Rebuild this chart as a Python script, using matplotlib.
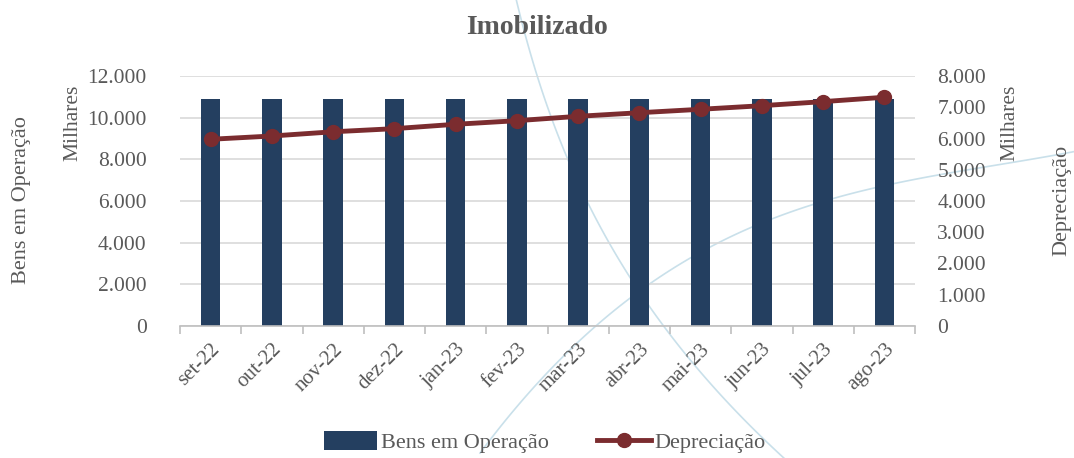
import matplotlib.pyplot as plt
import numpy as np

plt.rcParams['font.family'] = ['Liberation Serif', 'DejaVu Serif']

# --- dados (em milhares) ---
MESES = ['set-22', 'out-22', 'nov-22', 'dez-22', 'jan-23', 'fev-23',
         'mar-23', 'abr-23', 'mai-23', 'jun-23', 'jul-23', 'ago-23']
BENS_OPERACAO = [10900, 10900, 10900, 10900, 10900, 10900,
                 10900, 10900, 10900, 10900, 10900, 10900]
DEPRECIACAO = [5975, 6080, 6215, 6315, 6455, 6570,
               6710, 6825, 6935, 7050, 7180, 7320]

COR_BARRA = '#243F60'
COR_LINHA = '#7B2C2F'
COR_TEXTO = '#595959'
COR_GRADE = '#D9D9D9'
FS = 15.5

fig = plt.figure(figsize=(10.74, 4.58), dpi=100)

# --- arcos decorativos do fundo (em pixels da figura), suavizados ---
arco_a = [(517, 0), (535, 73), (552, 120), (568, 160), (587, 200), (600, 225),
          (660, 320), (723, 400), (785, 458)]
arco_b = [(480, 458), (550, 360), (650, 287), (750, 232), (830, 200),
          (930, 172), (1074, 153)]
ya = np.array([p[1] for p in arco_a], float)
ca = np.polyfit(ya, [p[0] for p in arco_a], 3)
yy = np.linspace(0, 458, 120)
xb = np.array([p[0] for p in arco_b], float)
cb = np.polyfit(xb, [p[1] for p in arco_b], 3)
xx = np.linspace(480, 1074, 120)
for xs, ys in ((np.polyval(ca, yy), yy), (xx, np.polyval(cb, xx))):
    fig.add_artist(plt.Line2D(xs / 1074, 1 - ys / 458, transform=fig.transFigure,
                              color='#C9E0EA', lw=1.2, zorder=0))

ax = fig.add_axes([180 / 1074, 1 - 326 / 458, 735 / 1074, 250 / 458])
ax.patch.set_alpha(0)
x = np.arange(len(MESES))
ax.bar(x, BENS_OPERACAO, width=0.32, color=COR_BARRA, zorder=2,
       label='Bens em Operação')
ax.set_xlim(-0.5, len(MESES) - 0.5)
ax.set_ylim(0, 12000)
ax.set_yticks(range(0, 12001, 2000))
ax.set_yticklabels([f'{v:,}'.replace(',', '.') for v in range(0, 12001, 2000)])
ax.grid(axis='y', color=COR_GRADE, lw=1.2, zorder=0)
ax.tick_params(axis='y', length=0, pad=24, labelsize=FS, labelcolor=COR_TEXTO)

ax.set_xticks(x)
ax.set_xticklabels(MESES, rotation=45, ha='right', rotation_mode='anchor',
                   fontsize=15, color=COR_TEXTO)
ax.set_xticks(np.arange(-0.5, len(MESES)), minor=True)
ax.tick_params(axis='x', which='major', length=0, pad=10)
ax.tick_params(axis='x', which='minor', length=6, color='#BFBFBF', width=1.2)
for s in ['top', 'left', 'right']:
    ax.spines[s].set_visible(False)
ax.spines['bottom'].set_color('#BFBFBF')
ax.spines['bottom'].set_linewidth(1.2)

ax2 = ax.twinx()
ax2.plot(x, DEPRECIACAO, color=COR_LINHA, lw=3.5, marker='o', markersize=10,
         label='Depreciação', zorder=3)
ax2.set_ylim(0, 8000)
ax2.set_yticks(range(0, 8001, 1000))
ax2.set_yticklabels([f'{v:,}'.replace(',', '.') for v in range(0, 8001, 1000)])
ax2.tick_params(axis='y', length=0, pad=16, labelsize=FS, labelcolor=COR_TEXTO)
for s in ax2.spines.values():
    s.set_visible(False)

# --- títulos e rótulos ---
fig.text(0.5, 1 - 27 / 458, 'Imobilizado', ha='center', va='center',
         fontsize=20, fontweight='bold', color=COR_TEXTO)
fig.text(22 / 1074, 1 - 200 / 458, 'Bens em Operação', rotation=90,
         ha='center', va='center', fontsize=FS + 0.5, color=COR_TEXTO)
fig.text(73 / 1074, 1 - 123 / 458, 'Milhares', rotation=90,
         ha='center', va='center', fontsize=FS, color=COR_TEXTO)
fig.text(1010 / 1074, 1 - 123 / 458, 'Milhares', rotation=90,
         ha='center', va='center', fontsize=FS, color=COR_TEXTO)
fig.text(1062 / 1074, 1 - 200 / 458, 'Depreciação', rotation=90,
         ha='center', va='center', fontsize=FS + 0.5, color=COR_TEXTO)

h1, l1 = ax.get_legend_handles_labels()
h2, l2 = ax2.get_legend_handles_labels()
leg = fig.legend(h1 + h2, l1 + l2, loc='center', bbox_to_anchor=(0.507, 1 - 442 / 458),
                 ncol=2, frameon=False, fontsize=16, handlelength=2.4,
                 handleheight=0.9, handletextpad=0.15, columnspacing=2.2)
for t in leg.get_texts():
    t.set_color(COR_TEXTO)

fig.savefig('out.png', dpi=100)
